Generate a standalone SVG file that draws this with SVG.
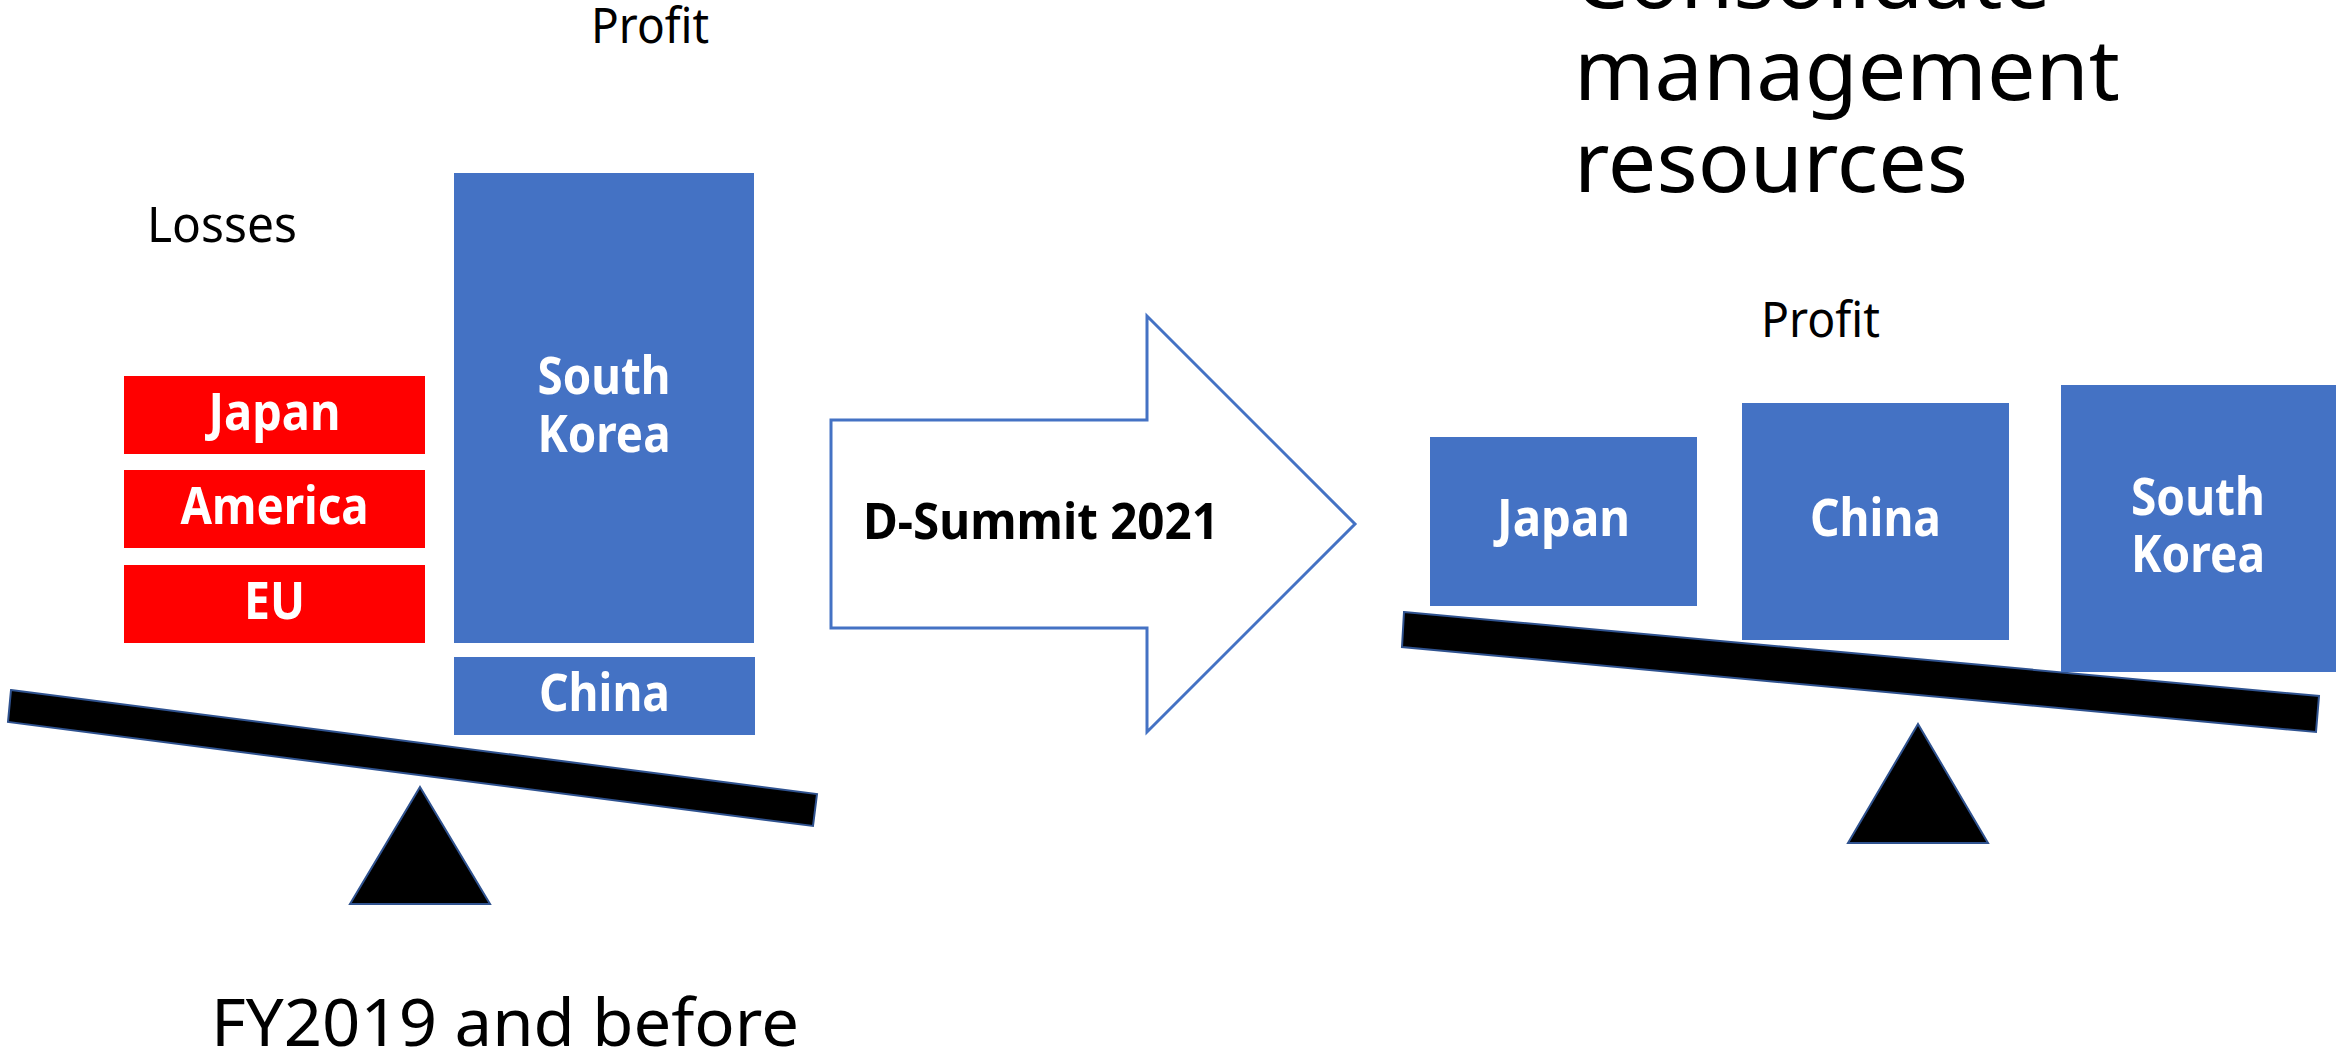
<svg xmlns="http://www.w3.org/2000/svg" width="2336" height="1053" viewBox="0 0 2336 1053">
  <style>
    .lbl { font-family: "Noto Sans", "Liberation Sans", sans-serif; fill: #000; }
    .box-text { font-family: "Noto Sans", "Liberation Sans", sans-serif; font-weight: bold; fill: #fff; font-size: 52px; text-anchor: middle; }
    .loss { fill: #FF0000; }
    .gain { fill: #4472C4; }
    .beam { fill: #000; stroke: #2F528F; stroke-width: 2; }
  </style>
  <rect width="2336" height="1053" fill="#fff"/>

  <!-- Title on the right, top line cut off by the frame -->
  <g id="title">
    <text class="lbl" x="1574" y="8" font-size="84" textLength="477" lengthAdjust="spacingAndGlyphs">Consolidate</text>
    <text class="lbl" x="1574" y="100" font-size="84" textLength="546" lengthAdjust="spacingAndGlyphs">management</text>
    <text class="lbl" x="1574" y="192" font-size="84" textLength="394" lengthAdjust="spacingAndGlyphs">resources</text>
  </g>

  <!-- Left balance: FY2019 and before -->
  <g id="left-scale">
    <polygon class="beam" points="11,690 817,794 813,826 8,722"/>
    <polygon class="beam" points="420,787 490,904 350,904"/>
  </g>
  <g id="left-labels">
    <text class="lbl" x="591" y="43" font-size="49" textLength="118" lengthAdjust="spacingAndGlyphs">Profit</text>
    <text class="lbl" x="147" y="242" font-size="50" textLength="150" lengthAdjust="spacingAndGlyphs">Losses</text>
    <text class="lbl" x="211" y="1046" font-size="66" textLength="588" lengthAdjust="spacingAndGlyphs">FY2019 and before</text>
  </g>
  <g id="left-japan">
    <rect class="loss" x="124" y="376" width="301" height="78"/>
    <text class="box-text" x="274.5" y="430" textLength="132" lengthAdjust="spacingAndGlyphs">Japan</text>
  </g>
  <g id="left-america">
    <rect class="loss" x="124" y="470" width="301" height="78"/>
    <text class="box-text" x="274.5" y="524" textLength="188" lengthAdjust="spacingAndGlyphs">America</text>
  </g>
  <g id="left-eu">
    <rect class="loss" x="124" y="565" width="301" height="78"/>
    <text class="box-text" x="274.5" y="619" textLength="61" lengthAdjust="spacingAndGlyphs">EU</text>
  </g>
  <g id="left-south-korea">
    <rect class="gain" x="454" y="173" width="300" height="470"/>
    <text class="box-text" x="604" y="394" textLength="133" lengthAdjust="spacingAndGlyphs">South</text>
    <text class="box-text" x="604" y="452" textLength="133" lengthAdjust="spacingAndGlyphs">Korea</text>
  </g>
  <g id="left-china">
    <rect class="gain" x="454" y="657" width="301" height="78"/>
    <text class="box-text" x="604.5" y="711" textLength="131" lengthAdjust="spacingAndGlyphs">China</text>
  </g>

  <!-- Transition arrow -->
  <g id="d-summit">
    <polygon points="831,420 1147,420 1147,316 1355,524 1147,732 1147,628 831,628" fill="#fff" stroke="#4472C4" stroke-width="3"/>
    <text x="863" y="539" font-family="Noto Sans, Liberation Sans, sans-serif" font-weight="bold" font-size="50" fill="#000" textLength="356" lengthAdjust="spacingAndGlyphs">D-Summit 2021</text>
  </g>

  <!-- Right balance: after consolidation -->
  <g id="right-scale">
    <polygon class="beam" points="1404,612 2319,696 2316,732 1402,647"/>
    <polygon class="beam" points="1918,724 1988,843 1848,843"/>
  </g>
  <g id="right-labels">
    <text class="lbl" x="1761" y="337" font-size="49" textLength="119" lengthAdjust="spacingAndGlyphs">Profit</text>
  </g>
  <g id="right-japan">
    <rect class="gain" x="1430" y="437" width="267" height="169"/>
    <text class="box-text" x="1563.5" y="536" textLength="133" lengthAdjust="spacingAndGlyphs">Japan</text>
  </g>
  <g id="right-china">
    <rect class="gain" x="1742" y="403" width="267" height="237"/>
    <text class="box-text" x="1875.5" y="536" textLength="131" lengthAdjust="spacingAndGlyphs">China</text>
  </g>
  <g id="right-south-korea">
    <rect class="gain" x="2061" y="385" width="275" height="287"/>
    <text class="box-text" x="2198" y="515" textLength="134" lengthAdjust="spacingAndGlyphs">South</text>
    <text class="box-text" x="2198" y="572" textLength="134" lengthAdjust="spacingAndGlyphs">Korea</text>
  </g>

  <!-- No connectors besides the arrow shape -->
  <g id="connectors"/>
</svg>
